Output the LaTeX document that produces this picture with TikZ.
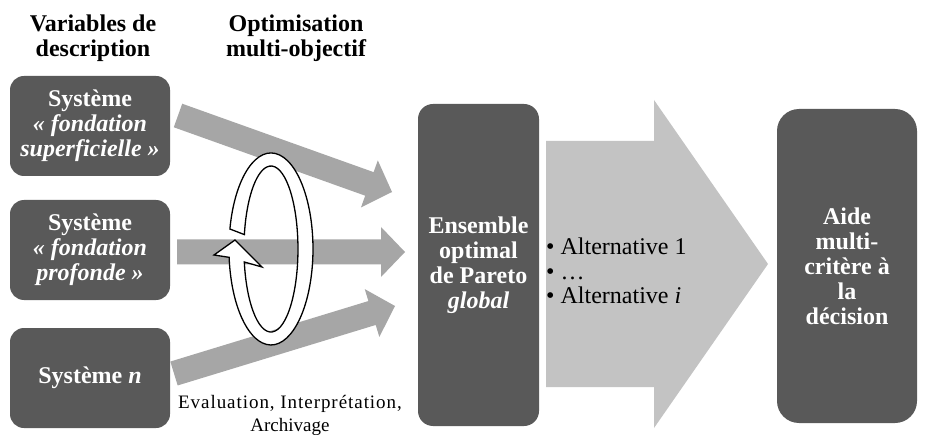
\documentclass[tikz,border=0pt]{standalone}
\usepackage{fontspec}
\setmainfont{Liberation Serif}
\usetikzlibrary{calc}
\definecolor{boxgray}{HTML}{595959}
\definecolor{arrgray}{HTML}{A6A6A6}
\definecolor{biggray}{HTML}{C3C3C3}
\tikzset{
  sysbox/.style={fill=boxgray, rounded corners=14pt, text=white,
    font=\bfseries\fontsize{24}{25}\selectfont, align=center, inner sep=0pt},
  headtext/.style={font=\bfseries\fontsize{24}{25}\selectfont, align=center, inner sep=0pt},
  fatarrowfill/.style={fill=arrgray},
  bigarrowfill/.style={fill=biggray},
  loopband/.style={fill=white, draw=black, line width=1.3pt, line join=miter},
  listtext/.style={font=\fontsize{24}{24.5}\selectfont, align=left, inner sep=0pt},
  evaltext/.style={font=\fontsize{19}{23}\selectfont, align=center, inner sep=0pt}
}
\newcommand\fatarrow[3]{%
  \coordinate (#3h) at ($(#2)!24pt!(#1)$);
  \fill[fatarrowfill] ($(#1)!12.5pt!90:(#2)$) -- ($(#3h)!12.5pt!-90:(#1)$)
    -- ($(#3h)!25pt!-90:(#1)$) -- (#2) -- ($(#3h)!25pt!90:(#1)$)
    -- ($(#3h)!12.5pt!90:(#1)$) -- ($(#1)!12.5pt!-90:(#2)$) -- cycle;
}
\begin{document}
\begin{tikzpicture}[x=1pt,y=-1pt]
\useasboundingbox (0,0) rectangle (925,435);
\fill[white] (0,0) rectangle (925,435);

% headers
\node[headtext, anchor=base] (h1) at (93,57) {Variables de\\description};
\node[headtext, anchor=base] (h2) at (296,57) {Optimisation\\multi-objectif};

% system boxes
\node[sysbox, minimum width=160pt, minimum height=100pt] (sys1) at (90,126)
  {Système\\\textit{« fondation}\\\textit{superficielle »}};
\node[sysbox, minimum width=160pt, minimum height=100pt] (sys2) at (90,250)
  {Système\\\textit{« fondation}\\\textit{profonde »}};
\node[sysbox, minimum width=160pt, minimum height=100pt] (sys3) at (90,378)
  {Système \textit{n}};

% Pareto box
\node[sysbox, rounded corners=15pt, minimum width=121pt, minimum height=322pt] (pareto) at (478.5,265)
  {Ensemble\\optimal\\de Pareto\\\textit{global}};

% decision box
\node[sysbox, rounded corners=22pt, minimum width=140pt, minimum height=314pt] (aide) at (847,266)
  {Aide\\multi-\\critère à\\la\\décision};

% big arrow
\fill[bigarrowfill] (546,141) -- (654,141) -- (654,100) -- (768,264) -- (654,428)
  -- (654,387) -- (546,387) -- cycle;
\node[listtext, anchor=west] (alts) at (546,271)
  {• Alternative 1\\• …\\• Alternative \textit{i}};

% gray arrows
\coordinate (a1s) at (178,115.5);
\coordinate (a1t) at (392,192);
\coordinate (a2s) at (177,252);
\coordinate (a2t) at (405,252);
\coordinate (a3s) at (174,373.5);
\coordinate (a3t) at (395,306);
\fatarrow{a1s}{a1t}{a1}
\fatarrow{a2s}{a2t}{a2}
\fatarrow{a3s}{a3t}{a3}

% loop arrow
\draw[loopband] (229.9,229.0) arc[start angle=192, end angle=535, x radius=42, y radius=96]
  -- (214,255) -- (235,240) -- (262,267) -- (244.3,262)
  arc[start angle=531, end angle=190, x radius=27, y radius=83] -- cycle;

\node[evaltext, anchor=base] (eval) at (290,431)
  {{\addfontfeatures{LetterSpace=5}Evaluation, Interprétation,}\\Archivage};
\end{tikzpicture}
\end{document}
